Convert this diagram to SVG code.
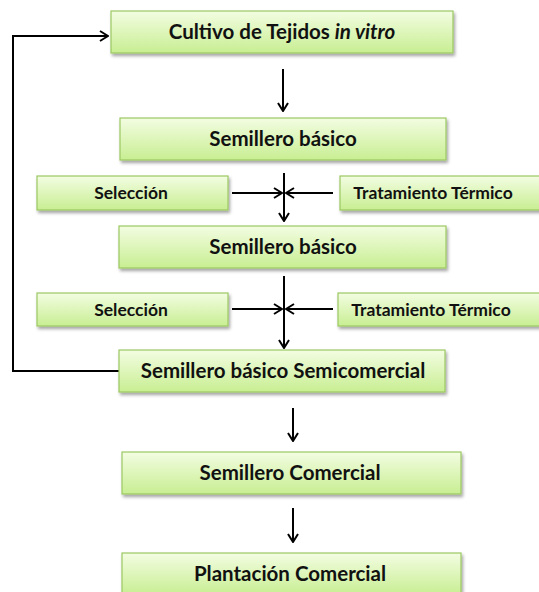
<svg xmlns="http://www.w3.org/2000/svg" width="539" height="592" viewBox="0 0 539 592">
<defs>
<linearGradient id="g" x1="0" y1="0" x2="0" y2="1">
<stop offset="0" stop-color="#f3fde2"/>
<stop offset="1" stop-color="#c8ee92"/>
</linearGradient>
<filter id="sh" x="-10%" y="-20%" width="130%" height="160%">
<feDropShadow dx="1.5" dy="2.5" stdDeviation="1.5" flood-color="#000" flood-opacity="0.35"/>
</filter>
<marker id="ah" viewBox="0 0 12 12" refX="11" refY="6" markerWidth="12" markerHeight="12" markerUnits="userSpaceOnUse" orient="auto">
<path d="M3,1 L11,6 L3,11" fill="none" stroke="#000" stroke-width="2"/>
</marker>
</defs>
<style>
.box{fill:url(#g);stroke:#9cc862;stroke-width:1.2;filter:url(#sh)}
.t{font-family:"Lato","Open Sans","Liberation Sans",sans-serif;font-weight:bold;fill:#111;text-anchor:middle}
.m{font-size:20.5px}
.s{font-size:17.5px}
.c{fill:none;stroke:#000;stroke-width:2}
</style>
<g id="connectors">
<path class="c" d="M283,69 V111" marker-end="url(#ah)"/>
<path class="c" d="M284,173 V221" marker-end="url(#ah)"/>
<path class="c" d="M232,193 H282" marker-end="url(#ah)"/>
<path class="c" d="M333,193 H286" marker-end="url(#ah)"/>
<path class="c" d="M284,276 V348" marker-end="url(#ah)"/>
<path class="c" d="M232,309 H282" marker-end="url(#ah)"/>
<path class="c" d="M333,309 H286" marker-end="url(#ah)"/>
<path class="c" d="M119,371 H13 V36 H108" marker-end="url(#ah)"/>
<path class="c" d="M293,408 V441" marker-end="url(#ah)"/>
<path class="c" d="M293,508 V542" marker-end="url(#ah)"/>
</g>
<g id="n1"><rect class="box" x="111" y="11" width="342" height="42"/><text class="t m" x="282" y="39">Cultivo de Tejidos <tspan font-style="italic">in vitro</tspan></text></g>
<g id="n2"><rect class="box" x="120" y="118" width="326" height="42"/><text class="t m" x="283" y="146">Semillero básico</text></g>
<g id="n3"><rect class="box" x="37" y="176" width="191" height="34"/><text class="t s" x="131" y="199">Selección</text></g>
<g id="n4"><rect class="box" x="340" y="176" width="205" height="34"/><text class="t s" x="433" y="199">Tratamiento Térmico</text></g>
<g id="n5"><rect class="box" x="119" y="226" width="327" height="42"/><text class="t m" x="283" y="254">Semillero básico</text></g>
<g id="n6"><rect class="box" x="37" y="293" width="191" height="33"/><text class="t s" x="131" y="316">Selección</text></g>
<g id="n7"><rect class="box" x="338" y="293" width="207" height="33"/><text class="t s" x="431" y="316">Tratamiento Térmico</text></g>
<g id="n8"><rect class="box" x="119" y="350" width="326" height="42"/><text class="t m" x="283" y="378">Semillero básico Semicomercial</text></g>
<g id="n9"><rect class="box" x="122" y="452" width="339" height="42"/><text class="t m" x="290" y="480">Semillero Comercial</text></g>
<g id="n10"><rect class="box" x="122" y="553" width="339" height="42"/><text class="t m" x="290" y="581">Plantación Comercial</text></g>
</svg>
